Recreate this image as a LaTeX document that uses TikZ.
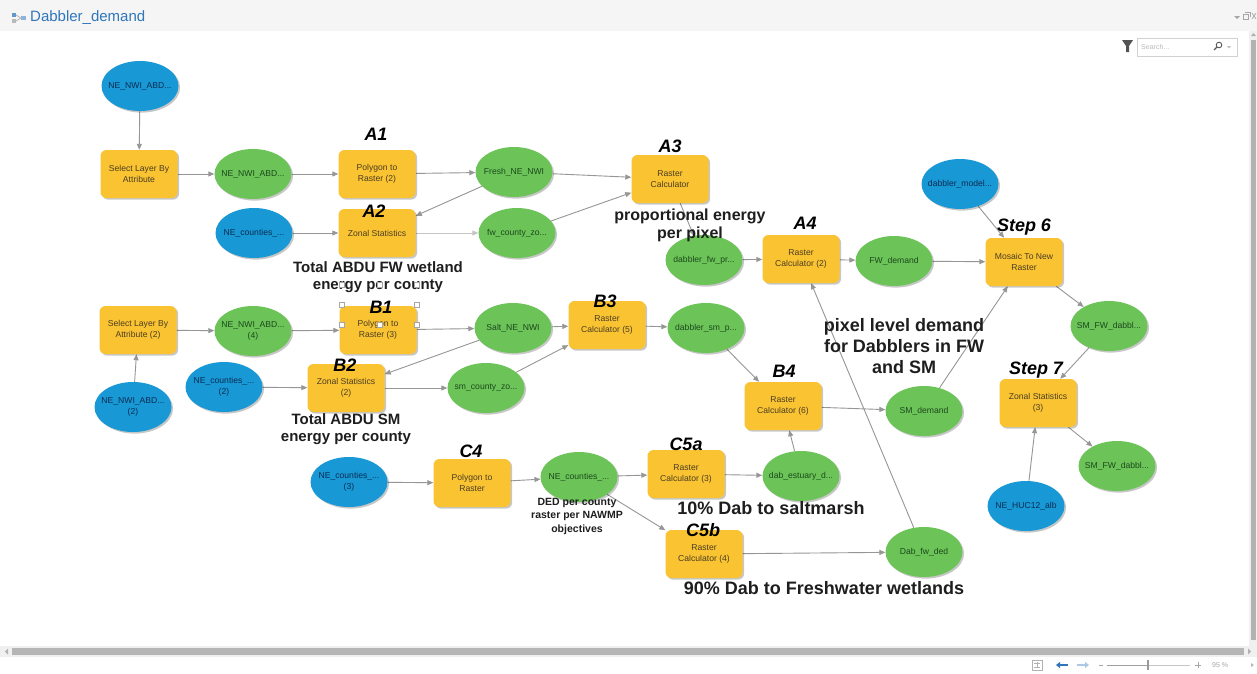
\documentclass[tikz,border=0pt]{standalone}
\usepackage{fontspec}
\setmainfont{Liberation Sans}
\usetikzlibrary{shapes.geometric,arrows.meta,shadows,backgrounds}

\definecolor{toolyellow}{RGB}{250,195,50}
\definecolor{datagreen}{RGB}{108,196,88}
\definecolor{inputblue}{RGB}{24,152,212}
\definecolor{tooltext}{RGB}{75,62,35}
\definecolor{datatext}{RGB}{28,72,28}
\definecolor{inputtext}{RGB}{12,45,85}
\definecolor{linkgray}{RGB}{150,150,150}
\definecolor{notetext}{RGB}{30,30,30}
\definecolor{barbg}{RGB}{245,245,246}
\definecolor{titleblue}{RGB}{48,118,186}

\newcommand\nodefont{\fontsize{8.6}{11}\selectfont}

\tikzset{
  boxshadow/.style={drop shadow={shadow xshift=1.6pt, shadow yshift=-1.6pt, fill=black, opacity=0.22}},
  tool/.style={boxshadow, rectangle, rounded corners=6pt, fill=toolyellow,
    minimum width=77pt, minimum height=48pt, inner sep=1pt, align=center,
    text=tooltext, font=\nodefont},
  dataset/.style={boxshadow, ellipse, fill=datagreen, minimum width=77pt,
    minimum height=50pt, inner sep=0pt},
  source/.style={boxshadow, ellipse, fill=inputblue, minimum width=77pt,
    minimum height=50pt, inner sep=0pt},
  datalabel/.style={text=datatext, font=\nodefont, align=center, inner sep=0pt},
  sourcelabel/.style={text=inputtext, font=\nodefont, align=center, inner sep=0pt},
  link/.style={draw=linkgray, line width=0.9pt, -{Triangle[length=6pt,width=5pt]}},
  steplabel/.style={font=\fontsize{18}{20}\selectfont\bfseries\itshape, text=black, inner sep=0pt},
  note/.style={font=\fontsize{15}{17}\selectfont\bfseries, text=notetext, align=center, inner sep=0pt},
  bignote/.style={font=\fontsize{18}{21}\selectfont\bfseries, text=notetext, align=center, inner sep=0pt},
  handle/.style={rectangle, draw=gray!70, fill=white, line width=0.5pt,
    minimum size=5pt, inner sep=0pt},
}

\begin{document}
\begin{tikzpicture}[x=1pt, y=-1pt]
\useasboundingbox (0,0) rectangle (1257,673);
\begin{scope}[on background layer]
  \fill[white] (0,0) rectangle (1257,673);
\end{scope}

% ---------- window frame ----------
\fill[barbg] (0,0) rectangle (1257,31);
\fill[titleblue!75] (12,13) rectangle (16,17);
\fill[gray!55] (12,19) rectangle (16,23);
\draw[gray!60, line width=0.7pt] (16,15) -- (21,18) -- (16,21);
\fill[titleblue!55] (21,16) rectangle (26,20);
\node[anchor=west, text=titleblue, font=\fontsize{15}{17}\selectfont, inner sep=0pt] (title) at (30,18) {Dabbler\_demand};

\fill[gray!70] (1234,16) -- (1240,16) -- (1237,19) -- cycle;
\draw[gray!70, line width=0.6pt] (1243,14) rectangle (1248,19);
\draw[gray!70, line width=0.6pt] (1245,12) -- (1250,12) -- (1250,17);
\draw[gray!70, line width=0.7pt] (1252,13) -- (1256,19) (1252,19) -- (1256,13);

\fill[gray!65!black] (1122,40) -- (1133,40) -- (1129,46) -- (1129,52) -- (1126,52) -- (1126,46) -- cycle;
\draw[gray!35, fill=white] (1137,38) rectangle (1237,56);
\node[anchor=west, text=gray!55, font=\fontsize{7}{8}\selectfont, inner sep=0pt] (search) at (1141,47) {Search...};
\draw[gray!70!black, line width=0.9pt] (1219,45) circle (2.8);
\draw[gray!70!black, line width=1.1pt] (1217,47) -- (1214,50);
\fill[gray!50] (1227,46) -- (1231,46) -- (1229,48.5) -- cycle;

\fill[gray!12] (1249,31) rectangle (1257,646);
\fill[gray!60] (1251,40) rectangle (1256,640);
\fill[gray!60] (1251,36) -- (1256,36) -- (1253.5,33) -- cycle;

\fill[gray!12] (0,646) rectangle (1257,657);
\fill[gray!58] (12,648) rectangle (1244,655);
\fill[gray!60] (8,648.5) -- (8,654.5) -- (5,651.5) -- cycle;
\fill[gray!60] (1248,648.5) -- (1248,654.5) -- (1251,651.5) -- cycle;

\draw[gray!60, line width=0.6pt] (1032,660) rectangle (1042,670);
\draw[gray!60, line width=0.5pt] (1034,663) -- (1040,663) (1034,667) -- (1040,667) (1037,662) -- (1037,668);
\draw[titleblue, line width=1.3pt, -{Triangle[length=4pt,width=6pt]}] (1068,665) -- (1056,665);
\draw[titleblue!40, line width=1.3pt, -{Triangle[length=4pt,width=6pt]}] (1077,665) -- (1089,665);
\draw[gray!70, line width=0.7pt] (1099,665) -- (1103,665);
\draw[gray!75, line width=1pt] (1107,665) -- (1148,665);
\draw[gray!45, line width=0.8pt] (1148,665) -- (1190,665);
\draw[gray!80, line width=1.3pt] (1148,660) -- (1148,670);
\draw[gray!70, line width=0.7pt] (1195,665) -- (1201,665) (1198,662) -- (1198,668);
\node[anchor=west, text=gray!70, font=\fontsize{7}{8}\selectfont, inner sep=0pt] (zoomlevel) at (1212,665) {95 \%};
\fill[gray!55] (1251,663) -- (1251,667) -- (1254,665) -- cycle;

% ---------- model elements ----------
% A chain: freshwater wetlands
\node[source, label={[sourcelabel]center:NE\_NWI\_ABD...}] (in1) at (140,86) {};
\node[tool] (sel1) at (139,174) {Select Layer By\\Attribute};
\node[dataset, label={[datalabel]center:NE\_NWI\_ABD...}] (d1) at (253,174) {};
\node[tool] (p2r2) at (377,174) {Polygon to\\Raster (2)};
\node[dataset, label={[datalabel]center:Fresh\_NE\_NWI}] (fresh) at (514,172) {};
\node[tool] (rc) at (670,179) {Raster\\Calculator};
\node[source, label={[sourcelabel]center:NE\_counties\_...}] (cnt1) at (254,233) {};
\node[tool] (zs) at (377,233) {Zonal Statistics};
\node[dataset, label={[datalabel]center:fw\_county\_zo...}] (fwz) at (517,233) {};
\node[dataset, label={[datalabel]center:dabbler\_fw\_pr...}] (dfw) at (704,260) {};
\node[tool] (rc2) at (801,259) {Raster\\Calculator (2)};
\node[dataset, label={[datalabel]center:FW\_demand}] (fwd) at (894,261) {};

% merge and summary
\node[source, label={[sourcelabel]center:dabbler\_model...}] (dm) at (960,184) {};
\node[tool] (mos) at (1024,262) {Mosaic To New\\Raster};
\node[dataset, label={[datalabel]center:SM\_FW\_dabbl...}] (smfw1) at (1109,326) {};
\node[tool] (zs3) at (1038,403) {Zonal Statistics\\(3)};
\node[dataset, label={[datalabel]center:SM\_FW\_dabbl...}] (smfw2) at (1117,466) {};
\node[source, label={[sourcelabel]center:NE\_HUC12\_alb}] (huc) at (1026,506) {};

% B chain: saltmarsh
\node[tool] (sel2) at (138,330) {Select Layer By\\Attribute (2)};
\node[dataset, label={[datalabel]center:NE\_NWI\_ABD...\\(4)}] (d4) at (253,331) {};
\node[tool] (p2r3) at (378,330) {Polygon to\\Raster (3)};
\node[dataset, label={[datalabel]center:Salt\_NE\_NWI}] (salt) at (513,328) {};
\node[tool] (rc5) at (607,325) {Raster\\Calculator (5)};
\node[dataset, label={[datalabel]center:dabbler\_sm\_p...}] (dsm) at (706,328) {};
\node[source, label={[sourcelabel]center:NE\_NWI\_ABD...\\(2)}] (in2) at (133,407) {};
\node[source, label={[sourcelabel]center:NE\_counties\_...\\(2)}] (cnt2) at (224,387) {};
\node[tool] (zs2) at (346,388) {Zonal Statistics\\(2)};
\node[dataset, label={[datalabel]center:sm\_county\_zo...}] (smz) at (486,388) {};
\node[tool] (rc6) at (783,406) {Raster\\Calculator (6)};
\node[dataset, label={[datalabel]center:SM\_demand}] (smd) at (924,411) {};

% C chain: county objectives
\node[source, label={[sourcelabel]center:NE\_counties\_...\\(3)}] (cnt3) at (349,482) {};
\node[tool] (p2r) at (472,483) {Polygon to\\Raster};
\node[dataset, label={[datalabel]center:NE\_counties\_...}] (ned) at (579,477) {};
\node[tool] (rc3) at (686,474) {Raster\\Calculator (3)};
\node[dataset, label={[datalabel]center:dab\_estuary\_d...}] (est) at (801,476) {};
\node[tool] (rc4) at (704,554) {Raster\\Calculator (4)};
\node[dataset, label={[datalabel]center:Dab\_fw\_ded}] (dfd) at (924,552) {};

% ---------- connectors ----------
\begin{scope}[on background layer]
  \draw[link] (in1) -- (sel1);
  \draw[link] (sel1) -- (d1);
  \draw[link] (d1) -- (p2r2);
  \draw[link] (p2r2) -- (fresh);
  \draw[link] (fresh) -- (zs);
  \draw[link] (fresh) -- (rc);
  \draw[link] (cnt1) -- (zs);
  \draw[link, draw=linkgray!55] (zs) -- (fwz);
  \draw[link] (fwz) -- (rc);
  \draw[link] (rc) -- (dfw);
  \draw[link] (dfw) -- (rc2);
  \draw[link] (rc2) -- (fwd);
  \draw[link] (fwd) -- (mos);
  \draw[link] (dm) -- (mos);
  \draw[link] (mos) -- (smfw1);
  \draw[link] (smd) -- (mos);
  \draw[link] (dfd) -- (rc2);
  \draw[link] (smfw1) -- (zs3);
  \draw[link] (huc) -- (zs3);
  \draw[link] (zs3) -- (smfw2);
  \draw[link] (in2) -- (sel2);
  \draw[link] (sel2) -- (d4);
  \draw[link] (d4) -- (p2r3);
  \draw[link] (p2r3) -- (salt);
  \draw[link] (salt) -- (zs2);
  \draw[link] (cnt2) -- (zs2);
  \draw[link] (zs2) -- (smz);
  \draw[link] (salt) -- (rc5);
  \draw[link] (smz) -- (rc5);
  \draw[link] (rc5) -- (dsm);
  \draw[link] (dsm) -- (rc6);
  \draw[link] (rc6) -- (smd);
  \draw[link] (est) -- (rc6);
  \draw[link] (cnt3) -- (p2r);
  \draw[link] (p2r) -- (ned);
  \draw[link] (ned) -- (rc3);
  \draw[link] (ned) -- (rc4);
  \draw[link] (rc3) -- (est);
  \draw[link] (rc4) -- (dfd);
\end{scope}

% ---------- step labels ----------
\node[steplabel] (labA1) at (376,134) {A1};
\node[steplabel] (labA2) at (374,211) {A2};
\node[steplabel] (labA3) at (670,146) {A3};
\node[steplabel] (labA4) at (805,223) {A4};
\node[steplabel] (labB1) at (381,307) {B1};
\node[steplabel] (labB2) at (345,365) {B2};
\node[steplabel] (labB3) at (605,301) {B3};
\node[steplabel] (labB4) at (784,371) {B4};
\node[steplabel] (labC4) at (471,451) {C4};
\node[steplabel] (labC5a) at (686,444) {C5a};
\node[steplabel] (labC5b) at (703,530) {C5b};
\node[steplabel] (labS6) at (1024,227) {Step 6};
\node[steplabel] (labS7) at (1036,370) {Step 7};

% ---------- notes ----------
\node[note] (noteA2) at (378,277) {Total ABDU FW wetland\\energy per county};
\node[note, font=\fontsize{16}{18}\selectfont\bfseries] (noteA3) at (690,225) {proportional energy\\per pixel};
\node[note] (noteB2) at (346,429) {Total ABDU SM\\energy per county};
\node[bignote] (noteDem) at (904,346) {pixel level demand\\for Dabblers in FW\\and SM};
\node[note, font=\fontsize{10.5}{13.5}\selectfont\bfseries] (noteDED) at (577,516) {DED per county\\raster per NAWMP\\objectives};
\node[bignote] (noteC5a) at (771,508) {10\% Dab to saltmarsh};
\node[bignote] (noteC5b) at (824,588) {90\% Dab to Freshwater wetlands};

% ---------- selection handles ----------
\foreach \hx/\hy [count=\k] in {342/285, 380/285, 417/285, 342/305, 417/305, 342/325, 380/325, 417/325}
  \node[handle] (sel-\k) at (\hx,\hy) {};
\end{tikzpicture}
\end{document}
